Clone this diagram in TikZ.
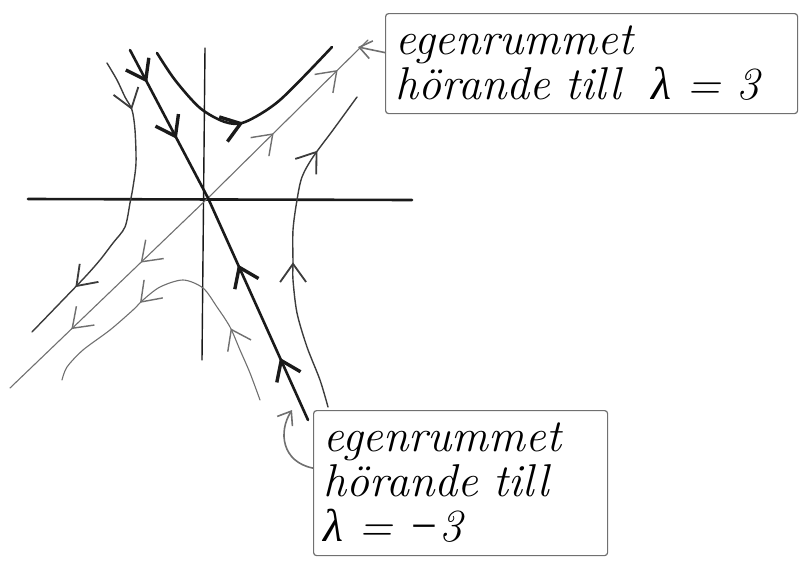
\documentclass[tikz,border=0pt]{standalone}
\usepackage{fontspec}
\newfontfamily\greekhand{Liberation Serif}
\usetikzlibrary{arrows.meta, positioning, decorations.markings}
\definecolor{cink}{HTML}{1A1A1A}
\definecolor{cpencil}{HTML}{707070}
\newcommand{\lam}{{\greekhand\itshape λ}}
\newcommand{\minus}{{\greekhand −}}
\tikzset{
  every picture/.style={line cap=round, line join=round},
  flowtip/.tip={Straight Barb[length=14pt, width=20pt]},
  axis/.style={draw=cink, line width=#1},
  axis/.default=1.4pt,
  heavy/.style={draw=cink, line width=2.6pt},
  curve/.style={draw=cink!85, line width=1.4pt},
  faint/.style={draw=cpencil, line width=1.1pt},
  tip at/.style={postaction={decorate, decoration={markings,
    mark=at position #1 with {\arrow[scale=1.3]{flowtip}}}}},
  hand/.style={font=\fontsize{46}{45}\selectfont\itshape, align=left},
  tag/.style={draw=cpencil, line width=1.2pt, rounded corners=3pt, hand, anchor=north west, inner xsep=10pt},
  pointer/.style={draw=cpencil, line width=1.6pt, -{Straight Barb[length=12pt, width=18pt]}},
}

\begin{document}
\begin{tikzpicture}[x=1pt, y=-1pt]
  \useasboundingbox (0,0) rectangle (803,562);
  \coordinate (O) at (208,198);
  % axes
  \draw[axis=2.6pt] (28,199) -- (412,200);
  \draw[axis] (205,48) -- (202,360);
  % eigenline for lambda = 3, flow goes out
  \coordinate (outNE) at (368,40);
  \coordinate (outSW) at (10,388);
  \draw[faint, tip at=0.41, tip at=0.81] (O) -- (outNE);
  \draw[faint, tip at=0.34, tip at=0.69] (O) -- (outSW);
  % eigenline for lambda = -3, flow goes in
  \coordinate (inNW) at (130,50);
  \coordinate (inSE) at (308,420);
  \draw[heavy, tip at=0.22, tip at=0.6] (inNW) -- (O);
  \draw[heavy, tip at=0.28, tip at=0.7] (inSE) -- (O);
  % other orbits
  \draw[heavy, tip at=0.5] plot[smooth] coordinates {(157,53) (175,80) (200,108) (225,122) (245,122) (280,100) (332,47)};
  \draw[curve, tip at=0.17, tip at=0.8] plot[smooth] coordinates {(107,63) (117,80) (125,97) (132,110) (135,130) (136,163) (133,187) (130,203) (125,227) (113,243) (100,260) (85,277) (60,303) (32,332)};
  \draw[curve, tip at=0.45, tip at=0.8] plot[smooth] coordinates {(328,407) (320,380) (307,347) (297,313) (293,280) (293,263) (293,230) (297,200) (302,177) (313,157) (333,130) (357,97)};
  \draw[faint, tip at=0.25, tip at=0.64] plot[smooth] coordinates {(260,400) (250,373) (240,350) (230,327) (217,307) (203,288) (183,280) (160,287) (143,300) (133,310) (110,330) (83,350) (67,367) (62,380)};
  % labels
  \node[tag, text width=392pt, minimum height=100pt] (tagUp) at (385,13) {egenrummet\\hörande till \ \lam\ = 3};
  \node[tag, text width=274pt, minimum height=145pt] (tagLow) at (313,410) {egenrummet\\hörande till\\\lam\ = \minus3};
  \coordinate (hitUp) at (358,47);
  \coordinate (hitLow) at (292,410);
  \draw[pointer] ([yshift=11pt]tagUp.west) -- (hitUp);
  \draw[pointer] ([yshift=15pt]tagLow.west) .. controls (282,462) and (278,432) .. (hitLow);
\end{tikzpicture}
\end{document}
